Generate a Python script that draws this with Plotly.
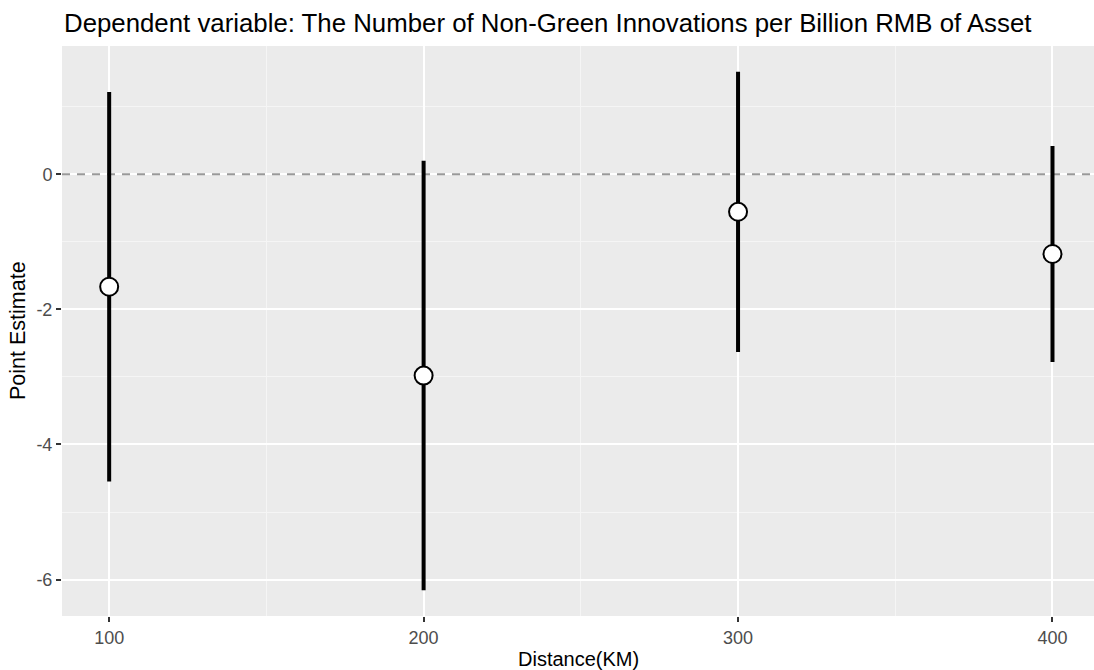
import plotly.graph_objects as go

# Coefficient estimates by distance band, with 95% confidence bounds
distance = [100, 200, 300, 400]
estimate = [-1.665, -2.98, -0.555, -1.18]
lower = [-4.55, -6.16, -2.63, -2.78]
upper = [1.22, 0.20, 1.52, 0.42]

x_ticks = [100, 200, 300, 400]
y_ticks = [-6, -4, -2, 0]
x_range = [85, 413.2]
y_range = [-6.54, 1.90]

FONT = "Liberation Sans, Arial, sans-serif"

fig = go.Figure()

# dashed reference line at zero, drawn first so the intervals sit on top
fig.add_trace(go.Scatter(
    x=x_range, y=[0, 0], mode="lines",
    line=dict(color="#999999", width=2, dash="8px,7px"),
    showlegend=False, hoverinfo="skip",
))

# confidence intervals as vertical segments
for d, lo, hi in zip(distance, lower, upper):
    fig.add_trace(go.Scatter(
        x=[d, d], y=[lo, hi], mode="lines",
        line=dict(color="black", width=4),
        showlegend=False, hoverinfo="skip",
    ))

# point estimates
fig.add_trace(go.Scatter(
    x=distance, y=estimate, mode="markers",
    marker=dict(size=18, color="white", line=dict(color="black", width=2)),
    showlegend=False,
))

fig.update_layout(
    width=1094, height=670,
    margin=dict(l=62, r=0, t=46, b=54),
    paper_bgcolor="white",
    plot_bgcolor="#EBEBEB",
    font=dict(family=FONT, color="#4D4D4D"),
    xaxis=dict(
        range=x_range, tickvals=x_ticks, ticktext=[str(v) for v in x_ticks],
        showgrid=True, gridcolor="white", gridwidth=1.6,
        minor=dict(tickvals=[150, 250, 350], showgrid=True, gridcolor="#F5F5F5", gridwidth=0.8),
        ticks="outside", ticklen=5, tickcolor="#333333", tickwidth=1.5,
        tickfont=dict(size=18, color="#4D4D4D"),
        zeroline=False, showline=False,
    ),
    yaxis=dict(
        range=y_range, tickvals=y_ticks, ticktext=[str(v) for v in y_ticks],
        showgrid=True, gridcolor="white", gridwidth=1.6,
        minor=dict(tickvals=[-5, -3, -1, 1], showgrid=True, gridcolor="#F5F5F5", gridwidth=0.8),
        ticks="outside", ticklen=5, tickcolor="#333333", tickwidth=1.5,
        tickfont=dict(size=18, color="#4D4D4D"),
        zeroline=False, showline=False,
    ),
    annotations=[
        dict(text="Dependent variable: The Number of Non-Green Innovations per Billion RMB of Asset",
             xref="paper", yref="paper", x=0, y=1, xanchor="left", yanchor="bottom",
             yshift=7, showarrow=False,
             font=dict(family=FONT, size=25.8, color="black")),
        dict(text="Distance(KM)", xref="paper", yref="paper", x=0.5, y=0,
             xanchor="center", yanchor="top", yshift=-30, showarrow=False,
             font=dict(family=FONT, size=20, color="black")),
        dict(text="Point Estimate", xref="paper", yref="paper", x=0, y=0.5,
             xanchor="right", yanchor="middle", xshift=-30, textangle=-90, showarrow=False,
             font=dict(family=FONT, size=21.5, color="black")),
    ],
)

fig.write_html("out.html")
